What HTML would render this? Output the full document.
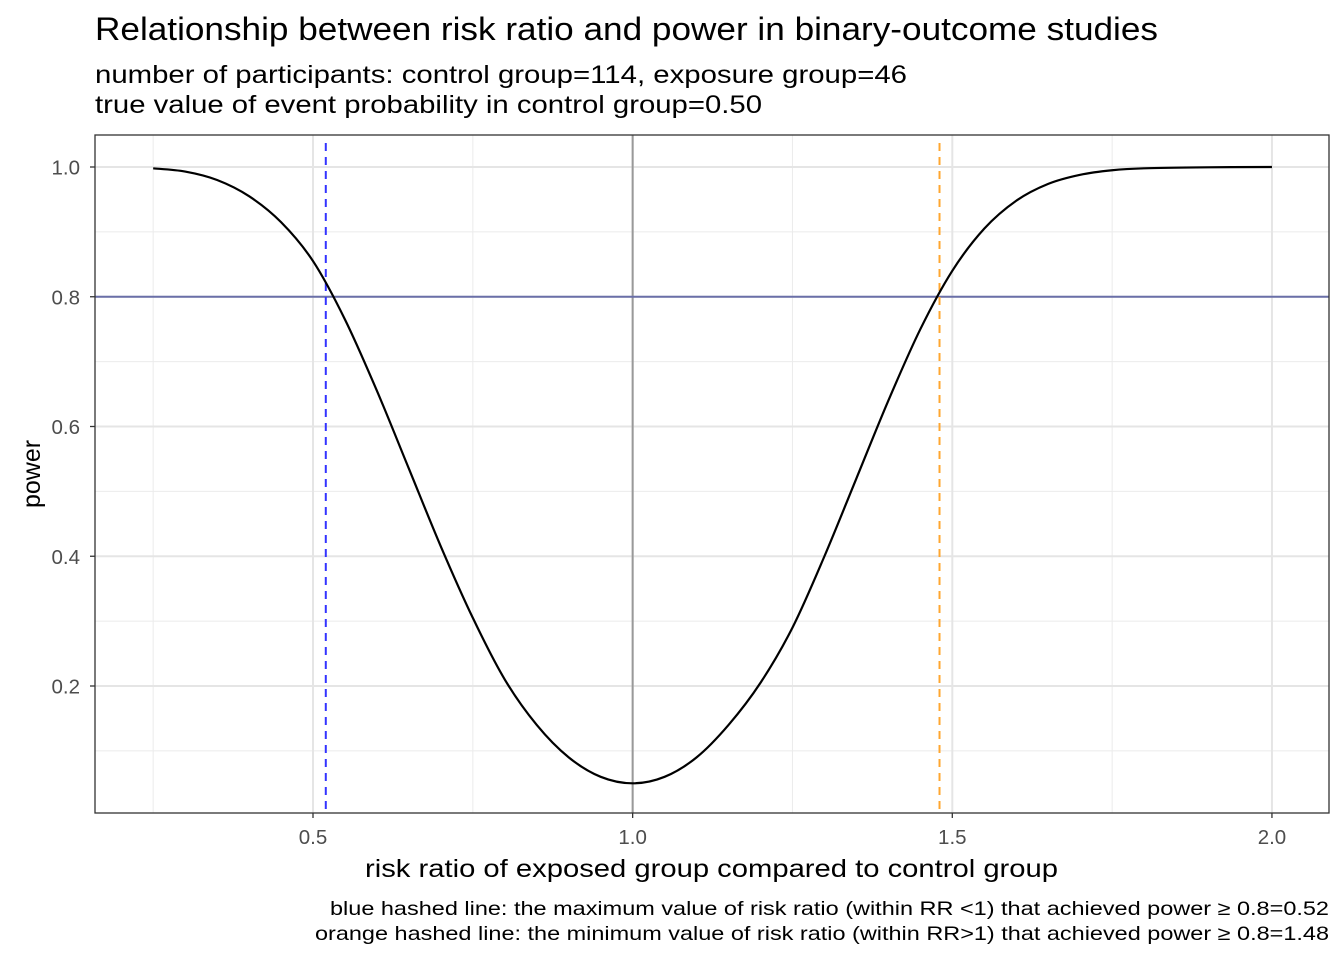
<!DOCTYPE html>
<html><head><meta charset="utf-8"><style>
body{margin:0;background:#fff;}
svg{display:block;font-family:"Liberation Sans",Arial,sans-serif;}
</style></head><body>
<svg id="chart" width="1344" height="960">
<g id="plot"></g>
<text x="95" y="40" font-size="32" textLength="1063" lengthAdjust="spacingAndGlyphs" fill="#000">Relationship between risk ratio and power in binary-outcome studies</text>
<text x="95" y="83" font-size="25" textLength="812" lengthAdjust="spacingAndGlyphs" fill="#000">number of participants: control group=114, exposure group=46</text>
<text x="95" y="113" font-size="25" textLength="667" lengthAdjust="spacingAndGlyphs" fill="#000">true value of event probability in control group=0.50</text>
<text x="365" y="877" font-size="25" textLength="693" lengthAdjust="spacingAndGlyphs" fill="#000">risk ratio of exposed group compared to control group</text>
<text transform="translate(40,474) rotate(-90)" font-size="25" text-anchor="middle" fill="#000">power</text>
<text x="330" y="915" font-size="19.5" textLength="999" lengthAdjust="spacingAndGlyphs" fill="#000">blue hashed line: the maximum value of risk ratio (within RR &lt;1) that achieved power ≥ 0.8=0.52</text>
<text x="315" y="940" font-size="19.5" textLength="1014" lengthAdjust="spacingAndGlyphs" fill="#000">orange hashed line: the minimum value of risk ratio (within RR&gt;1) that achieved power ≥ 0.8=1.48</text>
</svg>
<script>
const riskRatios=[0.25,0.3,0.35,0.4,0.45,0.5,0.55,0.6,0.65,0.7,0.75,0.8,0.85,0.9,0.95,1.0,1.05,1.1,1.15,1.2,1.25,1.3,1.35,1.4,1.45,1.5,1.55,1.6,1.65,1.7,1.75,1.8,1.9,2.0];
const powerValues=[0.998,0.993,0.98,0.955,0.915,0.855,0.765,0.655,0.535,0.415,0.305,0.21,0.14,0.09,0.06,0.05,0.06,0.09,0.14,0.205,0.29,0.40,0.52,0.64,0.75,0.84,0.905,0.948,0.974,0.988,0.995,0.998,0.9995,1.0];
const xTicks=[0.5,1.0,1.5,2.0];
const xMinor=[0.25,0.75,1.25,1.75];
const yTicks=[0.2,0.4,0.6,0.8,1.0];
const yMinor=[0.1,0.3,0.5,0.7,0.9];
const powerThreshold=0.8;
const rrLow=0.52, rrHigh=1.48, rrNull=1.0;

const NS="http://www.w3.org/2000/svg";
const L=95,R=1329,T=135,B=813;
const xs=v=>313+(v-0.5)*639.3;
const ys=v=>686-(v-0.2)*648.75;
const g=document.getElementById('plot');
function mk(tag,attrs){const e=document.createElementNS(NS,tag);for(const k in attrs)e.setAttribute(k,attrs[k]);g.appendChild(e);return e;}
let e=mk('rect',{x:L,y:T,width:R-L,height:B-T,fill:'#fff'});


xMinor.forEach(v=>{const l=mk('line',{x1:xs(v),x2:xs(v),y1:T,y2:B,stroke:'#ebebeb','stroke-width':1});

});
yMinor.forEach(v=>{const l=mk('line',{x1:L,x2:R,y1:ys(v),y2:ys(v),stroke:'#ebebeb','stroke-width':1});

});
xTicks.forEach(v=>{const l=mk('line',{x1:xs(v),x2:xs(v),y1:T,y2:B,stroke:'#e5e5e5','stroke-width':2});


const t=mk('line',{x1:xs(v),x2:xs(v),y1:B,y2:B+5,stroke:'#333','stroke-width':1.3});


const tx=mk('text',{x:xs(v),y:B+31,'font-size':20.5,'text-anchor':'middle',fill:'#4d4d4d'});tx.textContent=v.toFixed(1);

});
yTicks.forEach(v=>{const l=mk('line',{x1:L,x2:R,y1:ys(v),y2:ys(v),stroke:'#e5e5e5','stroke-width':2});


const t=mk('line',{x1:L-5,x2:L,y1:ys(v),y2:ys(v),stroke:'#333','stroke-width':1.3});


const tx=mk('text',{x:L-15,y:ys(v)+7.5,'font-size':20.5,'text-anchor':'end',fill:'#4d4d4d'});tx.textContent=v.toFixed(1);

});
e=mk('line',{x1:xs(rrNull),x2:xs(rrNull),y1:T,y2:B,stroke:'#999','stroke-width':2});


e=mk('line',{x1:L,x2:R,y1:ys(powerThreshold),y2:ys(powerThreshold),stroke:'#6a6fa8','stroke-width':2});


e=mk('line',{x1:xs(rrLow),x2:xs(rrLow),y1:T+8,y2:B,stroke:'#3333ff','stroke-width':2,'stroke-dasharray':'8,6'});


e=mk('line',{x1:xs(rrHigh),x2:xs(rrHigh),y1:T+8,y2:B,stroke:'#ffa630','stroke-width':2,'stroke-dasharray':'8,6'});


const P=riskRatios.map((r,i)=>[xs(r),ys(powerValues[i])]);
let d='M'+P[0][0]+','+P[0][1];
for(let i=0;i<P.length-1;i++){const p0=P[Math.max(0,i-1)],p1=P[i],p2=P[i+1],p3=P[Math.min(P.length-1,i+2)];
d+=' C'+(p1[0]+(p2[0]-p0[0])/6)+','+(p1[1]+(p2[1]-p0[1])/6)+' '+(p2[0]-(p3[0]-p1[0])/6)+','+(p2[1]-(p3[1]-p1[1])/6)+' '+p2[0]+','+p2[1];}
e=mk('path',{d:d,fill:'none',stroke:'#000','stroke-width':2.2});


e=mk('rect',{x:L,y:T,width:R-L,height:B-T,fill:'none',stroke:'#333','stroke-width':1.3});


</script>
</body></html>
